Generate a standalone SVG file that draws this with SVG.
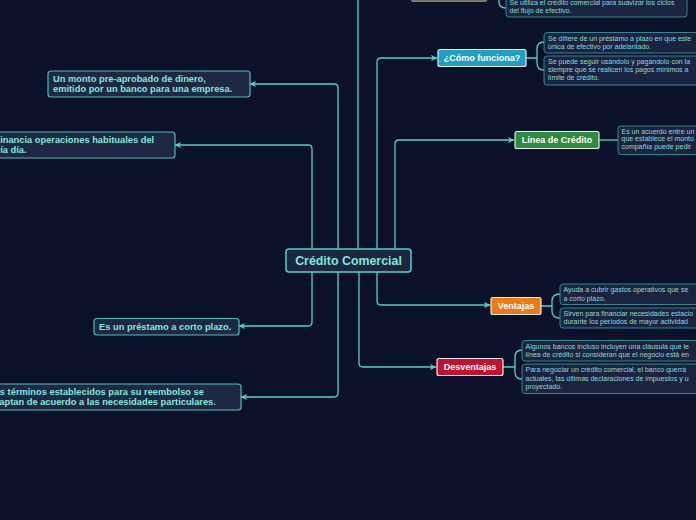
<svg xmlns="http://www.w3.org/2000/svg" width="696" height="520" viewBox="0 0 696 520">
<defs>
<marker id="ah" viewBox="0 0 8 8" refX="7" refY="4" markerWidth="7" markerHeight="7" markerUnits="userSpaceOnUse" orient="auto">
<path d="M0,0.5 L7.5,4 L0,7.5 L2.2,4 Z" fill="#4dd4c6"/>
</marker>
<style>
.bg{fill:#0a1128}
.cn{fill:none;stroke:#4dd4c6;stroke-width:1.3}
.ca{fill:none;stroke:#4dd4c6;stroke-width:1.3;marker-end:url(#ah)}
.ln{fill:#1e2844;stroke:#4cbfb0;stroke-width:1.2}
.lt{font-family:"Liberation Sans",Arial,sans-serif;font-weight:bold;font-size:9.3px;fill:#7ee8da}
.ch{fill:#1a2440;stroke:#2f8890;stroke-width:1}
.ct{font-family:"Liberation Sans",Arial,sans-serif;font-size:7px;fill:#8fd9d2}
.bt{font-family:"Liberation Sans",Arial,sans-serif;font-weight:bold;font-size:9px;fill:#ffffff}
.bs{stroke:#e8eeee;stroke-width:1.2}
</style>
</defs>
<rect class="bg" x="0" y="0" width="696" height="520"/>

<g id="connectors">
<path class="ca" d="M338,249 V88 Q338,84 334,84 H250"/>
<path class="ca" d="M312,249 V149 Q312,145 308,145 H175"/>
<path class="cn" d="M358,249 V-5"/>
<path class="ca" d="M377,249 V62 Q377,58 381,58 H437"/>
<path class="ca" d="M395,249 V144 Q395,140 399,140 H514"/>
<path class="ca" d="M312,272 V322 Q312,326 308,326 H239"/>
<path class="ca" d="M338,272 V393 Q338,397 334,397 H241"/>
<path class="ca" d="M359,272 V363 Q359,367 363,367 H436"/>
<path class="ca" d="M377,272 V301 Q377,305 381,305 H490"/>
<path class="cn" d="M499,-20 V2 Q499,8 506,8"/>
<path class="cn" d="M526,58 H537 M544,42 Q537,42 537,49 V63 Q537,70 544,70"/>
<path class="cn" d="M599,140 H618"/>
<path class="cn" d="M541,306 H552 M560,294 Q552,294 552,301 V311 Q552,318 560,318"/>
<path class="cn" d="M503,367 H515 M522,350 Q515,350 515,357 V372 Q515,379 522,379"/>
</g>

<g id="central">
<rect x="286" y="249" width="125" height="23" rx="3" fill="#1c2640" stroke="#4dd4c6" stroke-width="1.5"/>
<text x="348.5" y="265" text-anchor="middle" font-family="'Liberation Sans',Arial,sans-serif" font-weight="bold" font-size="12.4px" fill="#7ee8da">Crédito Comercial</text>
</g>

<g id="top-node">
<rect x="411" y="-20" width="76" height="21.5" rx="2" fill="#77705e" stroke="#8a826e" stroke-width="1"/>
</g>
<g id="top-child">
<rect class="ch" x="506" y="-14" width="181" height="31" rx="3"/>
<text class="ct" x="509.5" y="5">Se utiliza el crédito comercial para suavizar los ciclos</text>
<text class="ct" x="509.5" y="13">del flujo de efectivo.</text>
</g>

<g id="como-funciona">
<rect class="bs" x="438" y="49.5" width="88" height="17" rx="2" fill="#1e9fc4"/>
<text class="bt" x="482" y="61.2" text-anchor="middle">¿Cómo funciona?</text>
</g>
<g id="como-c1">
<rect class="ch" x="544" y="32.5" width="170" height="20.5" rx="3"/>
<text class="ct" x="548" y="40.5">Se difiere de un préstamo a plazo en que este</text>
<text class="ct" x="548" y="48.5">única de efectivo por adelantado.</text>
</g>
<g id="como-c2">
<rect class="ch" x="544" y="56" width="170" height="29" rx="3"/>
<text class="ct" x="548" y="64">Se puede seguir usándolo y pagándolo con la</text>
<text class="ct" x="548" y="72">siempre que se realicen los pagos mínimos a</text>
<text class="ct" x="548" y="80">límite de crédito.</text>
</g>

<g id="linea">
<rect class="bs" x="515" y="131.5" width="84" height="17" rx="2" fill="#2a8c3c"/>
<text class="bt" x="557" y="143.2" text-anchor="middle">Línea de Crédito</text>
</g>
<g id="linea-c1">
<rect class="ch" x="618" y="126" width="100" height="28.5" rx="3"/>
<text class="ct" x="621.5" y="133.5">Es un acuerdo entre un</text>
<text class="ct" x="621.5" y="141">que establece el monto</text>
<text class="ct" x="621.5" y="148.5">compañía puede pedir</text>
</g>

<g id="ventajas">
<rect class="bs" x="491" y="297.5" width="50" height="17" rx="2" fill="#ee7b12"/>
<text class="bt" x="516" y="309.2" text-anchor="middle">Ventajas</text>
</g>
<g id="ventajas-c1">
<rect class="ch" x="560" y="284" width="150" height="20.5" rx="3"/>
<text class="ct" x="563.5" y="292">Ayuda a cubrir gastos operativos que se</text>
<text class="ct" x="563.5" y="300.5">a corto plazo.</text>
</g>
<g id="ventajas-c2">
<rect class="ch" x="560" y="308" width="150" height="20" rx="3"/>
<text class="ct" x="563.5" y="315.5">Sirven para financiar necesidades estacio</text>
<text class="ct" x="563.5" y="324">durante los períodos de mayor actividad</text>
</g>

<g id="desventajas">
<rect class="bs" x="437" y="358.5" width="66" height="17" rx="2" fill="#c4102c"/>
<text class="bt" x="470" y="370.2" text-anchor="middle">Desventajas</text>
</g>
<g id="desventajas-c1">
<rect class="ch" x="522" y="340.5" width="190" height="20.5" rx="3"/>
<text class="ct" x="525.5" y="348.5">Algunos bancos incluso incluyen una cláusula que le</text>
<text class="ct" x="525.5" y="357">línea de crédito si consideran que el negocio está en</text>
</g>
<g id="desventajas-c2">
<rect class="ch" x="522" y="364" width="190" height="29.5" rx="3"/>
<text class="ct" x="525.5" y="372">Para negociar un crédito comercial, el banco querrá</text>
<text class="ct" x="525.5" y="380.5">actuales, las últimas declaraciones de impuestos y u</text>
<text class="ct" x="525.5" y="389">proyectado.</text>
</g>

<g id="monto">
<rect class="ln" x="48" y="71" width="202" height="26" rx="3"/>
<text class="lt" x="53" y="82">Un monto pre-aprobado de dinero,</text>
<text class="lt" x="53" y="92">emitido por un banco para una empresa.</text>
</g>
<g id="financia">
<rect class="ln" x="-20" y="132" width="195" height="26" rx="3"/>
<text class="lt" x="-5.5" y="143">Financia operaciones habituales del</text>
<text class="lt" x="-5.5" y="153">día día.</text>
</g>
<g id="prestamo">
<rect class="ln" x="94" y="318.5" width="145" height="16.5" rx="3"/>
<text class="lt" x="99" y="330">Es un préstamo a corto plazo.</text>
</g>
<g id="terminos">
<rect class="ln" x="-20" y="384" width="261" height="26" rx="3"/>
<text class="lt" x="-11.5" y="395">Los términos establecidos para su reembolso se</text>
<text class="lt" x="-11.5" y="405">adaptan de acuerdo a las necesidades particulares.</text>
</g>
</svg>
